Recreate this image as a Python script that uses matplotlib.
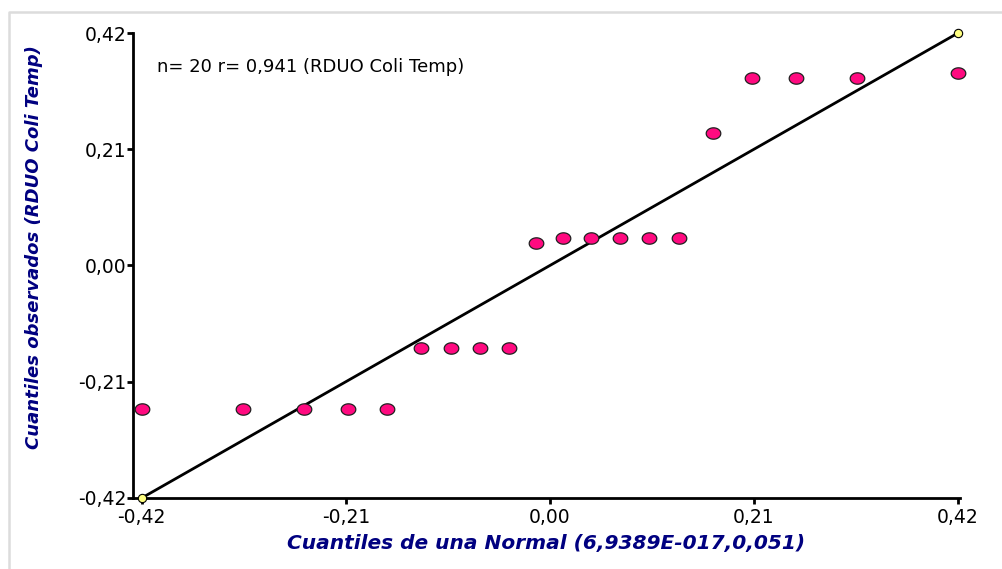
import matplotlib.pyplot as plt
import numpy as np
from matplotlib.path import Path
from matplotlib.ticker import FuncFormatter

# Theoretical normal quantiles (x) and observed quantiles (y)
normal_q = [-0.420, -0.316, -0.253, -0.208, -0.168, -0.133, -0.102, -0.072, -0.042, -0.014,
            0.014, 0.042, 0.072, 0.102, 0.133, 0.168, 0.208, 0.253, 0.316, 0.420]
observed_q = [-0.259, -0.259, -0.259, -0.259, -0.259, -0.149, -0.149, -0.149, -0.149, 0.040,
              0.049, 0.049, 0.049, 0.049, 0.049, 0.239, 0.339, 0.339, 0.339, 0.348]
ref_line = [-0.42, 0.42]
ticks = [-0.42, -0.21, 0.00, 0.21, 0.42]

n_obs = 20
r_value = 0.941
var_name = "RDUO Coli Temp"

plt.rcParams['font.family'] = ['DejaVu Sans']

fig = plt.figure(figsize=(10.03, 5.69), dpi=100)
ax = fig.add_axes([0.1326, 0.1248, 0.8245, 0.8172])

# light grey frame around the chart
fig.add_artist(plt.Line2D([0.009, 0.009, 0.999], [0.0, 0.979, 0.979],
                          transform=fig.transFigure, color='#dcdcdc', lw=1.8))

# wide ellipse marker
t = np.linspace(0, 2 * np.pi, 60)
ellipse = Path(np.column_stack([np.cos(t), 0.78 * np.sin(t)]), closed=True)

ax.plot(ref_line, ref_line, color='black', lw=2.0, zorder=2)
ax.plot(ref_line, ref_line, ls='none', marker='o', ms=6, mfc='#ffff80',
        mec='black', mew=0.8, zorder=4, clip_on=False)
ax.plot(normal_q, observed_q, ls='none', marker=ellipse, ms=10.5, mfc='#ff0a80',
        mec='#202020', mew=0.9, zorder=3, clip_on=False)

ax.text(0.0295, 0.927, f"n= {n_obs} r= {r_value:.3f} ({var_name})".replace('.', ','),
        transform=ax.transAxes, fontsize=13, va='center', ha='left')

ax.set_xlim(-0.429, 0.422)
ax.set_ylim(-0.42, 0.42)
ax.set_xticks(ticks)
ax.set_yticks(ticks)
fmt = FuncFormatter(lambda v, p: f"{v:.2f}".replace('.', ',').replace('-0,00', '0,00'))
ax.xaxis.set_major_formatter(fmt)
ax.yaxis.set_major_formatter(fmt)
ax.tick_params(axis='both', direction='out', length=4, width=2, labelsize=13.5)
ax.tick_params(axis='y', pad=1)
ax.tick_params(axis='x', pad=3)

for side in ['top', 'right']:
    ax.spines[side].set_visible(False)
for side in ['left', 'bottom']:
    ax.spines[side].set_linewidth(2)

ax.set_xlabel("Cuantiles de una Normal (6,9389E-017,0,051)", fontsize=14.5,
              fontweight='bold', fontstyle='italic', color='#000080', labelpad=5)
ax.set_ylabel(f"Cuantiles observados ({var_name})", fontsize=13,
              fontweight='bold', fontstyle='italic', color='#000080')
ax.yaxis.set_label_coords(-0.109, 0.54)

fig.savefig('out.png', dpi=100)
